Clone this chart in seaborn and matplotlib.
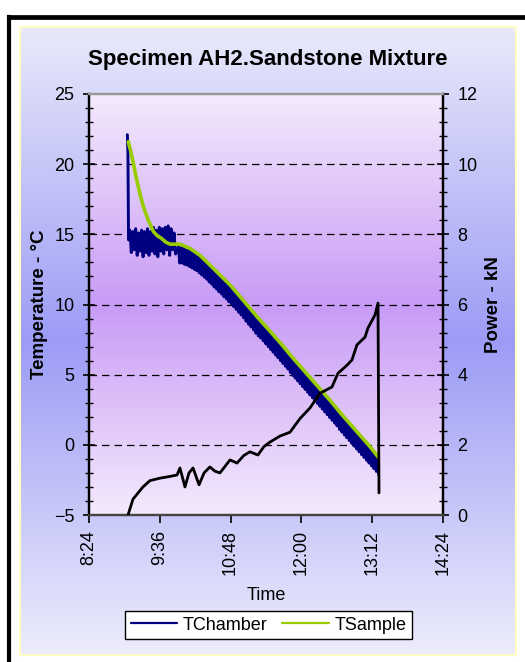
import numpy as np
import pandas as pd
import matplotlib
matplotlib.use("Agg")
import matplotlib.pyplot as plt
from matplotlib.ticker import MultipleLocator, FuncFormatter
from matplotlib.lines import Line2D
from matplotlib.colors import to_rgb
import seaborn as sns

# ----------------------------
# Data (time in minutes after midnight)
# ----------------------------
chamber_min = [
    543.0, 543.6, 544.2,
    545.5, 547.0, 548.5, 550.0, 551.5, 553.0, 554.5, 556.0, 557.5, 559.0,
    560.5, 562.0, 563.5, 565.0, 566.5, 568.0, 569.5, 571.0, 572.5, 574.0,
    575.5, 577.0, 578.5, 580.0, 581.5, 583.0, 584.5, 586.0, 587.5, 589.0,
    590.5, 592.0,
    595.0, 596.25, 597.5, 598.75, 600.0, 601.25, 602.5, 603.75, 605.0, 606.25,
    607.5, 608.75, 610.0, 611.25, 612.5, 613.75, 615.0, 616.25, 617.5, 618.75,
    620.0, 621.25, 622.5, 623.75, 625.0, 626.25, 627.5, 628.75, 630.0, 631.25,
    632.5, 633.75, 635.0, 636.25, 637.5, 638.75, 640.0, 641.25, 642.5, 643.75,
    645.0, 646.25, 647.5, 648.75, 650.0, 651.25, 652.5, 653.75, 655.0, 656.25,
    657.5, 658.75, 660.0, 661.25, 662.5, 663.75, 665.0, 666.25, 667.5, 668.75,
    670.0, 671.25, 672.5, 673.75, 675.0, 676.25, 677.5, 678.75, 680.0, 681.25,
    682.5, 683.75, 685.0, 686.25, 687.5, 688.75, 690.0, 691.25, 692.5, 693.75,
    695.0, 696.25, 697.5, 698.75, 700.0, 701.25, 702.5, 703.75, 705.0, 706.25,
    707.5, 708.75, 710.0, 711.25, 712.5, 713.75, 715.0, 716.25, 717.5, 718.75,
    720.0, 721.25, 722.5, 723.75, 725.0, 726.25, 727.5, 728.75, 730.0, 731.25,
    732.5, 733.75, 735.0, 736.25, 737.5, 738.75, 740.0, 741.25, 742.5, 743.75,
    745.0, 746.25, 747.5, 748.75, 750.0, 751.25, 752.5, 753.75, 755.0, 756.25,
    757.5, 758.75, 760.0, 761.25, 762.5, 763.75, 765.0, 766.25, 767.5, 768.75,
    770.0, 771.25, 772.5, 773.75, 775.0, 776.25, 777.5, 778.75, 780.0, 781.25,
    782.5, 783.75, 785.0, 786.25, 787.5, 788.75, 790.0, 791.25, 792.5, 793.75,
    795.0, 796.25, 797.5, 798.5,
]
chamber_temp = [
    22.1, 20.8, 14.6,
    15.3, 13.7, 15.2, 13.9, 15.4, 13.5, 15.1, 13.8, 15.3, 13.4,
    15.2, 13.7, 15.4, 13.5, 15.2, 13.8, 15.5, 13.6, 15.3, 13.4,
    15.5, 13.8, 15.4, 13.6, 15.5, 13.9, 15.6, 13.5, 15.4, 13.9,
    15.1, 13.6,
    14.1, 12.95, 14.05, 12.95, 14.0, 12.85, 13.9, 12.8, 13.85, 12.7,
    13.75, 12.6, 13.65, 12.5, 13.5, 12.4, 13.4, 12.25, 13.25, 12.1,
    13.1, 11.95, 12.9, 11.8, 12.75, 11.6, 12.6, 11.45, 12.4, 11.25,
    12.2, 11.1, 12.05, 10.9, 11.9, 10.75, 11.7, 10.55, 11.5, 10.4,
    11.35, 10.2, 11.2, 10.05, 11.0, 9.85, 10.8, 9.65, 10.6, 9.45,
    10.4, 9.25, 10.2, 9.05, 10.0, 8.8, 9.75, 8.6, 9.55, 8.4,
    9.35, 8.2, 9.1, 7.95, 8.9, 7.75, 8.7, 7.6, 8.55, 7.4,
    8.35, 7.2, 8.15, 7.0, 7.95, 6.8, 7.75, 6.6, 7.55, 6.4,
    7.35, 6.2, 7.15, 6.0, 6.95, 5.8, 6.75, 5.6, 6.55, 5.4,
    6.3, 5.15, 6.1, 4.95, 5.9, 4.75, 5.7, 4.55, 5.5, 4.35,
    5.3, 4.15, 5.1, 3.95, 4.9, 3.75, 4.7, 3.55, 4.5, 3.35,
    4.3, 3.15, 4.1, 2.95, 3.9, 2.75, 3.7, 2.55, 3.5, 2.35,
    3.3, 2.15, 3.1, 1.95, 2.9, 1.75, 2.7, 1.55, 2.5, 1.35,
    2.28, 1.1, 2.05, 0.9, 1.85, 0.7, 1.65, 0.5, 1.45, 0.3,
    1.25, 0.1, 1.05, -0.1, 0.85, -0.3, 0.65, -0.5, 0.45, -0.7,
    0.25, -0.9, 0.05, -1.1, -0.15, -1.3, -0.35, -1.5, -0.55, -1.7,
    -0.75, -1.9, -0.95, -2.1,
]

sample_min = [
    544.0, 546.5, 549.0, 551.5, 554.1, 556.5, 559.2, 561.7, 564.3, 567.0,
    569.4, 573.5, 577.9, 582.0, 586.4, 591.5, 596.5, 601.5, 606.7, 611.8,
    616.9, 623.5, 630.1, 638.7, 647.4, 655.9, 664.4, 675.9, 690.0, 700.0,
    710.0, 720.0, 730.0, 740.0, 750.0, 760.0, 770.0, 780.0, 790.0, 798.4,
]
sample_temp = [
    21.6, 20.9, 20.1, 19.2, 18.4, 17.7, 17.0, 16.5, 16.0, 15.6,
    15.2, 14.9, 14.7, 14.45, 14.3, 14.3, 14.3, 14.15, 14.0, 13.75,
    13.5, 13.05, 12.6, 12.0, 11.4, 10.7, 10.0, 9.05, 7.95, 7.15,
    6.3, 5.5, 4.7, 3.9, 3.1, 2.25, 1.45, 0.65, -0.15, -0.9,
]

power_min = [
    543.7, 548.7, 558.9, 566.0, 576.2, 586.4, 593.5, 596.5, 601.6, 605.7,
    609.8, 615.9, 621.0, 627.0, 632.0, 637.2, 647.4, 654.5, 661.6, 667.7,
    675.8, 681.9, 688.1, 698.2, 708.4, 718.6, 728.7, 738.9, 751.1, 757.2,
    766.4, 771.4, 776.5, 784.7, 787.7, 794.8, 797.9, 798.9,
]
power_kn = [
    0.0, 0.45, 0.8, 0.98, 1.05, 1.1, 1.14, 1.34, 0.8, 1.2,
    1.34, 0.86, 1.2, 1.37, 1.25, 1.2, 1.57, 1.48, 1.7, 1.8,
    1.71, 1.95, 2.08, 2.25, 2.36, 2.75, 3.05, 3.47, 3.65, 4.04,
    4.27, 4.42, 4.85, 5.07, 5.33, 5.7, 6.04, 0.63,
]

chamber = pd.DataFrame({"minute": chamber_min, "TChamber": chamber_temp})
sample = pd.DataFrame({"minute": sample_min, "TSample": sample_temp})
power = pd.DataFrame({"minute": power_min, "Power": power_kn})

# ----------------------------
# Figure
# ----------------------------
sns.set_style("ticks")
plt.rcParams['font.family'] = ['Liberation Sans', 'DejaVu Sans']
plt.rcParams.update({'text.color': 'black', 'axes.labelcolor': 'black',
                     'xtick.color': 'black', 'ytick.color': 'black'})

W, H = 525, 662
fig = plt.figure(figsize=(W / 100, H / 100), dpi=100)


def px_box(x0, y0, x1, y1):
    # pixel box (origin top-left) -> figure fraction rect
    return [x0 / W, 1 - y1 / H, (x1 - x0) / W, (y1 - y0) / H]


def vgrad(top, mid, bottom, n=256):
    t, m, b = np.array(to_rgb(top)), np.array(to_rgb(mid)), np.array(to_rgb(bottom))
    s = np.linspace(0, 1, n // 2)[:, None]
    upper = t + (m - t) * s
    lower = m + (b - m) * s
    return np.vstack([upper, lower])[:, None, :]


# black frame: only the top and left edges fall inside the picture
fig.add_artist(Line2D([8.5 / W, 1.0], [1 - 16.5 / H, 1 - 16.5 / H], color='black',
                      lw=3.4, transform=fig.transFigure, solid_capstyle='projecting'))
fig.add_artist(Line2D([8.5 / W, 8.5 / W], [1 - 16.5 / H, 0.0], color='black',
                      lw=3.0, transform=fig.transFigure, solid_capstyle='projecting'))

# chart panel with blue gradient
bg = fig.add_axes(px_box(20, 27, 516, 655))
bg.imshow(vgrad('#e9e9fb', '#9c9cf6', '#ededfc'), aspect='auto', extent=(0, 1, 0, 1))
bg.set_xticks([])
bg.set_yticks([])
for sp in bg.spines.values():
    sp.set_color('#ffffc4')
    sp.set_linewidth(1.5)

# plot area
ax = fig.add_axes(px_box(89, 94, 443, 515))
ax.imshow(vgrad('#f4eafc', '#c89bf6', '#f4eafc'), aspect='auto', extent=(0, 1, 0, 1),
          transform=ax.transAxes, zorder=0)

for y in [0, 5, 10, 15, 20]:
    ax.axhline(y, color='black', lw=0.9, ls=(0, (6, 4)), zorder=1)

sns.lineplot(data=chamber, x="minute", y="TChamber", ax=ax, color='#000080',
             lw=2.1, sort=False, estimator=None, zorder=3)
sns.lineplot(data=sample, x="minute", y="TSample", ax=ax, color='#99cc00',
             lw=2.6, sort=False, estimator=None, zorder=4)

ax.set_xlim(504, 864)
ax.set_ylim(-5, 25)
ax.xaxis.set_major_locator(MultipleLocator(72))
ax.xaxis.set_major_formatter(FuncFormatter(lambda v, p: f"{int(v) // 60}:{int(v) % 60:02d}"))
ax.yaxis.set_major_locator(MultipleLocator(5))
ax.yaxis.set_minor_locator(MultipleLocator(1))
ax.tick_params(axis='x', which='major', direction='out', length=6, width=1.2,
               labelsize=13, pad=5, labelrotation=90)
ax.tick_params(axis='y', which='major', direction='inout', length=9, width=1.2,
               labelsize=13, pad=6)
ax.tick_params(axis='y', which='minor', direction='inout', length=6, width=1.0)

ax.set_xlabel("Time", fontsize=13)
ax.xaxis.set_label_coords(0.5, -0.172)
ax.set_ylabel("Temperature - °C", fontsize=13.5, fontweight='bold')
ax.yaxis.set_label_coords(-0.116, 0.5)

ax2 = ax.twinx()
sns.lineplot(data=power, x="minute", y="Power", ax=ax2, color='black',
             lw=2.0, sort=False, estimator=None, zorder=5)
ax2.set_ylim(0, 12)
ax2.set_xlim(504, 864)
ax2.yaxis.set_major_locator(MultipleLocator(2))
ax2.yaxis.set_minor_locator(MultipleLocator(0.4))
ax2.tick_params(axis='y', which='major', direction='inout', length=9, width=1.2,
                labelsize=13, pad=6)
ax2.tick_params(axis='y', which='minor', direction='inout', length=6, width=1.0)
ax2.set_ylabel("Power - kN", fontsize=13.5, fontweight='bold')
ax2.yaxis.set_label_coords(1.119, 0.5)
ax2.set_xlabel("")

for a in (ax, ax2):
    a.spines['top'].set_color('#999999')
    a.spines['bottom'].set_color('#444444')
    a.spines['left'].set_color('black')
    a.spines['right'].set_color('black')
    for sp in a.spines.values():
        sp.set_linewidth(1.6)

handles = [Line2D([], [], color='#000080', lw=1.6), Line2D([], [], color='#99cc00', lw=1.6)]
fig.legend(handles, ["TChamber", "TSample"], loc='center',
           bbox_to_anchor=(268.5 / W, 1 - 625 / H), ncol=2, frameon=True,
           fancybox=False, edgecolor='black', facecolor='white', framealpha=1,
           fontsize=13, handlelength=2.6, handletextpad=0.3, columnspacing=0.8,
           borderpad=0.3)

fig.text(268 / W, 1 - 60 / H, "Specimen AH2.Sandstone Mixture", ha='center',
         va='center', fontsize=16, fontweight='bold')

fig.savefig("out.png", dpi=100)
